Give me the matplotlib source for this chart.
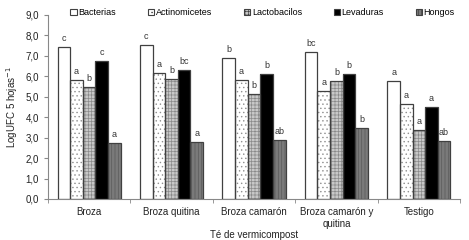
import matplotlib
matplotlib.use("Agg")
import matplotlib.pyplot as plt
import numpy as np
from matplotlib.ticker import FuncFormatter, FixedLocator
from matplotlib.patches import Patch

plt.rcParams['font.family'] = ['Liberation Sans', 'DejaVu Sans']
plt.rcParams['hatch.linewidth'] = 0.5

categories = ["Broza", "Broza quitina", "Broza camarón", "Broza camarón y\nquitina", "Testigo"]
series_names = ["Bacterias", "Actinomicetes", "Lactobacilos", "Levaduras", "Hongos"]
bacterias = [7.45, 7.52, 6.90, 7.18, 5.79]
actinomicetes = [5.82, 6.18, 5.82, 5.27, 4.63]
lactobacilos = [5.46, 5.86, 5.12, 5.79, 3.39]
levaduras = [6.74, 6.31, 6.13, 6.13, 4.49]
hongos = [2.74, 2.79, 2.87, 3.46, 2.84]
letters_bact = ["c", "c", "b", "bc", "a"]
letters_act = ["a", "a", "a", "a", "a"]
letters_lac = ["b", "b", "b", "b", "a"]
letters_lev = ["c", "bc", "b", "b", "a"]
letters_hon = ["a", "a", "ab", "b", "ab"]

series = [bacterias, actinomicetes, lactobacilos, levaduras, hongos]
letters = [letters_bact, letters_act, letters_lac, letters_lev, letters_hon]
faces = ["white", "white", "#c8c8c8", "black", "#7a7a7a"]
hatches = [None, "....", "+++++", None, "|||||"]
hatch_cols = ["white", "#909090", "#8a8a8a", "black", "#5a5a5a"]

fig = plt.figure(figsize=(4.69, 2.40), dpi=100)
ax = fig.add_axes([0.102, 0.171, 0.879, 0.7665])

x = np.arange(len(categories))
w = 0.153
offsets = (np.arange(5) - 2) * w
handles = []
for i, (vals, name) in enumerate(zip(series, series_names)):
    ax.bar(x + offsets[i], vals, width=w, color=faces[i], edgecolor=hatch_cols[i],
           linewidth=0, hatch=hatches[i], zorder=2)
    bars = ax.bar(x + offsets[i], vals, width=w, facecolor="none", edgecolor="#404040",
                  linewidth=0.9, zorder=3)
    handles.append(Patch(facecolor=faces[i], edgecolor="#404040", hatch=hatches[i],
                         linewidth=0.8, label=name))
    for b, lab in zip(bars, letters[i]):
        ax.text(b.get_x() + b.get_width() / 2, b.get_height() + 0.2, lab,
                ha="center", va="bottom", fontsize=6.5, color="#333333")

ax.set_xlim(-0.5, 4.5)
ax.set_ylim(0, 9)
ax.set_yticks(np.arange(0, 9.1, 1.0))
ax.yaxis.set_major_formatter(FuncFormatter(lambda v, p: f"{v:.1f}".replace(".", ",")))
ax.set_xticks(x)
ax.set_xticklabels(categories, fontsize=7, color="#222222")
ax.tick_params(axis="x", length=0, pad=6)
ax.xaxis.set_minor_locator(FixedLocator(np.arange(-0.5, 4.6, 1.0)))
ax.tick_params(axis="x", which="minor", length=3, color="#888888", direction="out")
ax.tick_params(axis="y", labelsize=7, length=3, color="#888888", labelcolor="#222222")
for s in ["top", "right"]:
    ax.spines[s].set_visible(False)
ax.spines["left"].set_color("#888888")
ax.spines["bottom"].set_color("#888888")

ax.set_ylabel("LogUFC 5 hojas$^{-1}$", fontsize=7, color="#222222")
ax.set_xlabel("Té de vermicompost", fontsize=7, color="#222222", labelpad=1)

leg = fig.legend(handles=handles, loc="upper center", bbox_to_anchor=(0.56, 1.0), ncol=5,
                 frameon=False, fontsize=6.5, handlelength=0.7, handleheight=0.7,
                 handletextpad=0.2, columnspacing=3.5)

fig.savefig("out.png", dpi=100)
